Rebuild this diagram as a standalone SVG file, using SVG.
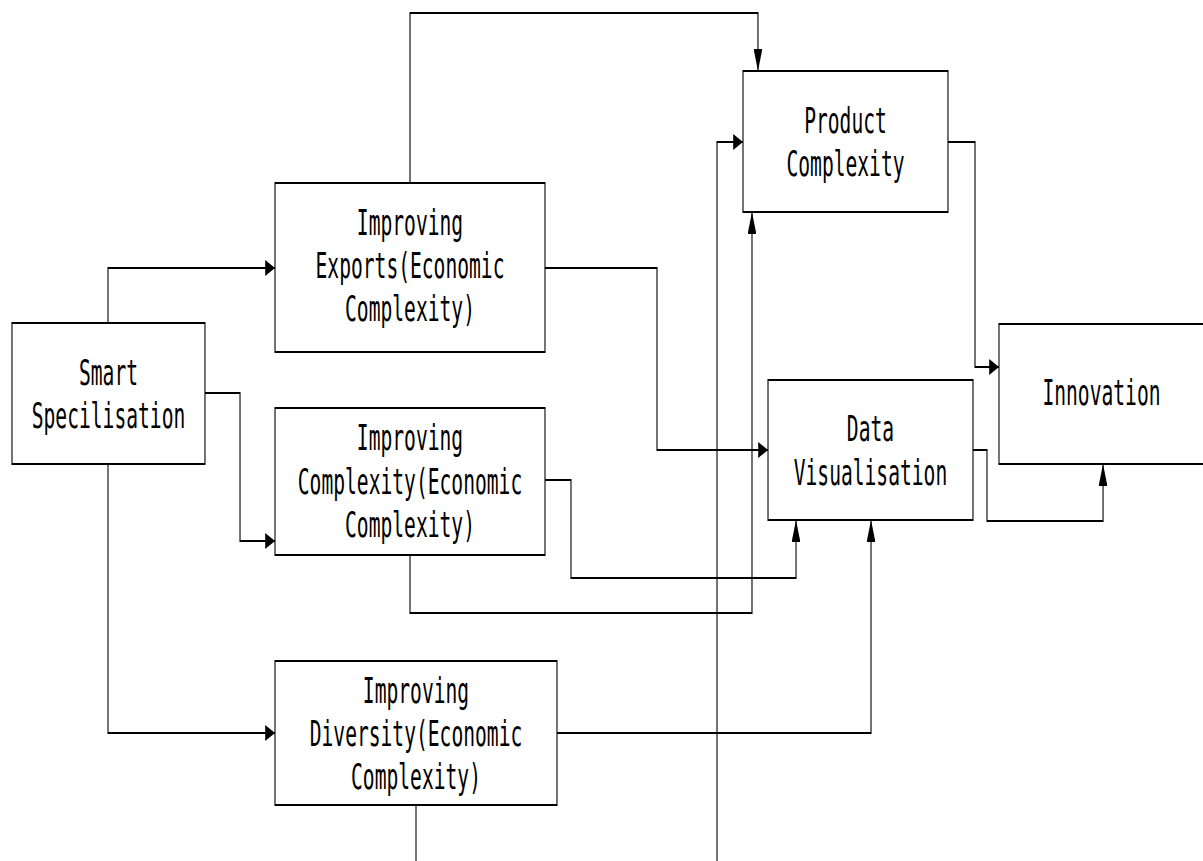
<svg xmlns="http://www.w3.org/2000/svg" width="1203" height="861" viewBox="0 0 1203 861">
<defs>
<style>
.box{fill:#fff;stroke:#000;stroke-width:2}
.t{font-family:"DejaVu Sans Mono","Liberation Mono",monospace;font-size:36px;fill:#000;text-anchor:middle}
.c{fill:none;stroke:#000;stroke-width:2}
</style>
<marker id="aH" markerWidth="18" markerHeight="16" refX="18" refY="8" orient="auto" markerUnits="userSpaceOnUse" viewBox="0 0 18 16"><path d="M0,0 L18,8 L0,16z" fill="#000"/></marker>
<marker id="aV" markerWidth="22" markerHeight="16" refX="22" refY="8" orient="auto" markerUnits="userSpaceOnUse" viewBox="0 0 22 16"><path d="M0,0 L22,8 L0,16z" fill="#000"/></marker>
</defs>
<rect width="1203" height="861" fill="#fff"/>
<g transform="scale(0.545,1)">
<g id="connectors">
<path class="c" d="M198.2,323 V268 H504.6" marker-end="url(#aH)"/>
<path class="c" d="M376.1,393 H440.4 V541 H504.6" marker-end="url(#aH)"/>
<path class="c" d="M198.2,464 V733 H504.6" marker-end="url(#aH)"/>
<path class="c" d="M752.3,183 V13 H1390.8 V71" marker-end="url(#aV)"/>
<path class="c" d="M1000,268 H1205.5 V450 H1409.2" marker-end="url(#aH)"/>
<path class="c" d="M1000,480 H1047.7 V578 H1460.6 V520" marker-end="url(#aV)"/>
<path class="c" d="M752.3,555 V613 H1379.8 V212" marker-end="url(#aV)"/>
<path class="c" d="M1315.6,861 V142 H1363.3" marker-end="url(#aH)"/>
<path class="c" d="M1739.5,142 H1789 V367 H1833" marker-end="url(#aH)"/>
<path class="c" d="M1785.3,450 H1811 V521 H2023.9 V464" marker-end="url(#aV)"/>
<path class="c" d="M1022,733 H1598.2 V520" marker-end="url(#aV)"/>
<path class="c" d="M763.3,805 V861"/>
</g>
<g id="smart">
<rect class="box" x="22" y="323" width="354.1" height="141"/>
<text class="t" x="199.1" y="385">Smart</text>
<text class="t" x="199.1" y="428">Specilisation</text>
</g>
<g id="exports">
<rect class="box" x="504.6" y="183" width="495.4" height="169"/>
<text class="t" x="752.3" y="235">Improving</text>
<text class="t" x="752.3" y="278">Exports(Economic</text>
<text class="t" x="752.3" y="321">Complexity)</text>
</g>
<g id="complexity">
<rect class="box" x="504.6" y="408" width="495.4" height="147"/>
<text class="t" x="752.3" y="450">Improving</text>
<text class="t" x="752.3" y="494">Complexity(Economic</text>
<text class="t" x="752.3" y="537">Complexity)</text>
</g>
<g id="diversity">
<rect class="box" x="504.6" y="661" width="517.4" height="144"/>
<text class="t" x="763.3" y="703">Improving</text>
<text class="t" x="763.3" y="746">Diversity(Economic</text>
<text class="t" x="763.3" y="789">Complexity)</text>
</g>
<g id="product">
<rect class="box" x="1363.3" y="71" width="376.1" height="141"/>
<text class="t" x="1551.4" y="133">Product</text>
<text class="t" x="1551.4" y="176">Complexity</text>
</g>
<g id="data">
<rect class="box" x="1409.2" y="380" width="376.1" height="140"/>
<text class="t" x="1597.2" y="441">Data</text>
<text class="t" x="1597.2" y="485">Visualisation</text>
</g>
<g id="innovation">
<rect class="box" x="1833" y="324" width="376.1" height="140"/>
<text class="t" x="2021.1" y="405">Innovation</text>
</g>
</g>
</svg>
